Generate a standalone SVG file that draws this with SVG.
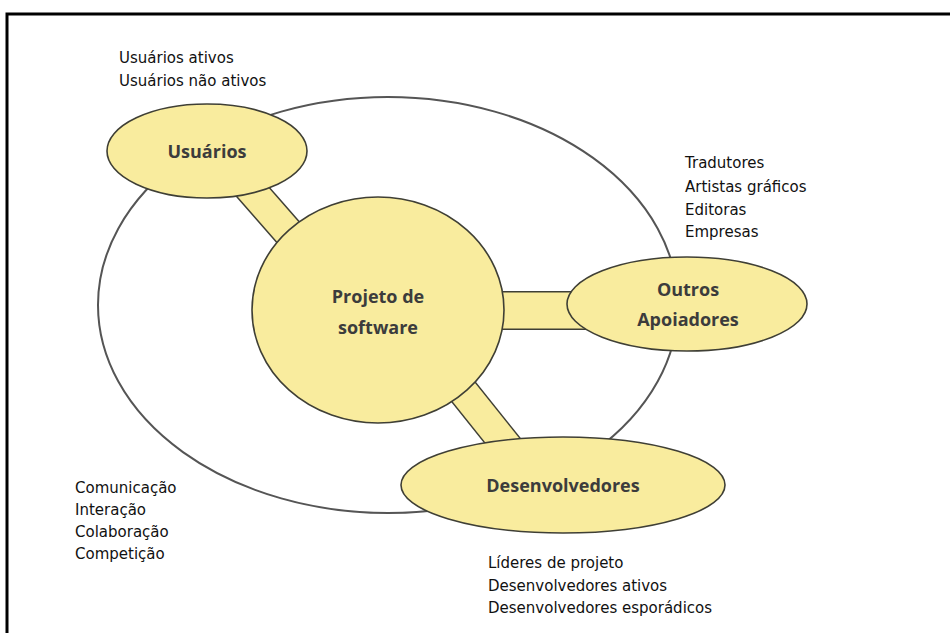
<svg xmlns="http://www.w3.org/2000/svg" width="950" height="633" viewBox="0 0 950 633">
<style>
.node{fill:#F9EC9E;stroke:#3f3f35;stroke-width:1.6}
.lbl{font-family:"Open Sans","Liberation Sans",sans-serif;font-weight:bold;font-size:18px;fill:#3c3c3c;text-anchor:middle}
.note{font-family:"DejaVu Sans","Liberation Sans",sans-serif;font-size:15px;fill:#111}
.bandOut{stroke:#3f3f35;fill:none}
.bandIn{stroke:#F9EC9E;fill:none}
</style>
<rect x="0" y="0" width="950" height="633" fill="#ffffff"/>
<path d="M7 633 V14 H950" fill="none" stroke="#000" stroke-width="3"/>
<g id="outer">
<ellipse cx="388" cy="305" rx="290" ry="208" fill="none" stroke="#555" stroke-width="2"/>
</g>
<g id="connectors">
<line class="bandOut" x1="210" y1="143" x2="330" y2="280" stroke-width="32"/>
<line class="bandIn" x1="210" y1="143" x2="330" y2="280" stroke-width="29"/>
<line class="bandOut" x1="480" y1="310.5" x2="600" y2="310.5" stroke-width="39"/>
<line class="bandIn" x1="480" y1="310.5" x2="600" y2="310.5" stroke-width="36"/>
<line class="bandOut" x1="410" y1="325" x2="530" y2="475" stroke-width="32"/>
<line class="bandIn" x1="410" y1="325" x2="530" y2="475" stroke-width="29"/>
</g>
<g id="usuarios">
<ellipse class="node" cx="207" cy="151" rx="100" ry="47"/>
<text class="lbl" x="207" y="158">Usuários</text>
</g>
<g id="projeto">
<ellipse class="node" cx="378" cy="310" rx="126" ry="113"/>
<text class="lbl" x="378" y="303">Projeto de</text>
<text class="lbl" x="378" y="334">software</text>
</g>
<g id="outros">
<ellipse class="node" cx="687" cy="304" rx="120" ry="47"/>
<text class="lbl" x="688" y="296">Outros</text>
<text class="lbl" x="688" y="326">Apoiadores</text>
</g>
<g id="desenvolvedores">
<ellipse class="node" cx="563" cy="485" rx="162" ry="48"/>
<text class="lbl" x="563" y="492">Desenvolvedores</text>
</g>
<g id="notes">
<text class="note" x="119" y="63">Usuários ativos</text>
<text class="note" x="119" y="86">Usuários não ativos</text>
<text class="note" x="685" y="168">Tradutores</text>
<text class="note" x="685" y="192">Artistas gráficos</text>
<text class="note" x="685" y="215">Editoras</text>
<text class="note" x="685" y="237">Empresas</text>
<text class="note" x="75" y="493">Comunicação</text>
<text class="note" x="75" y="515">Interação</text>
<text class="note" x="75" y="537">Colaboração</text>
<text class="note" x="75" y="559">Competição</text>
<text class="note" x="488" y="568">Líderes de projeto</text>
<text class="note" x="488" y="591">Desenvolvedores ativos</text>
<text class="note" x="488" y="613">Desenvolvedores esporádicos</text>
</g>
</svg>
